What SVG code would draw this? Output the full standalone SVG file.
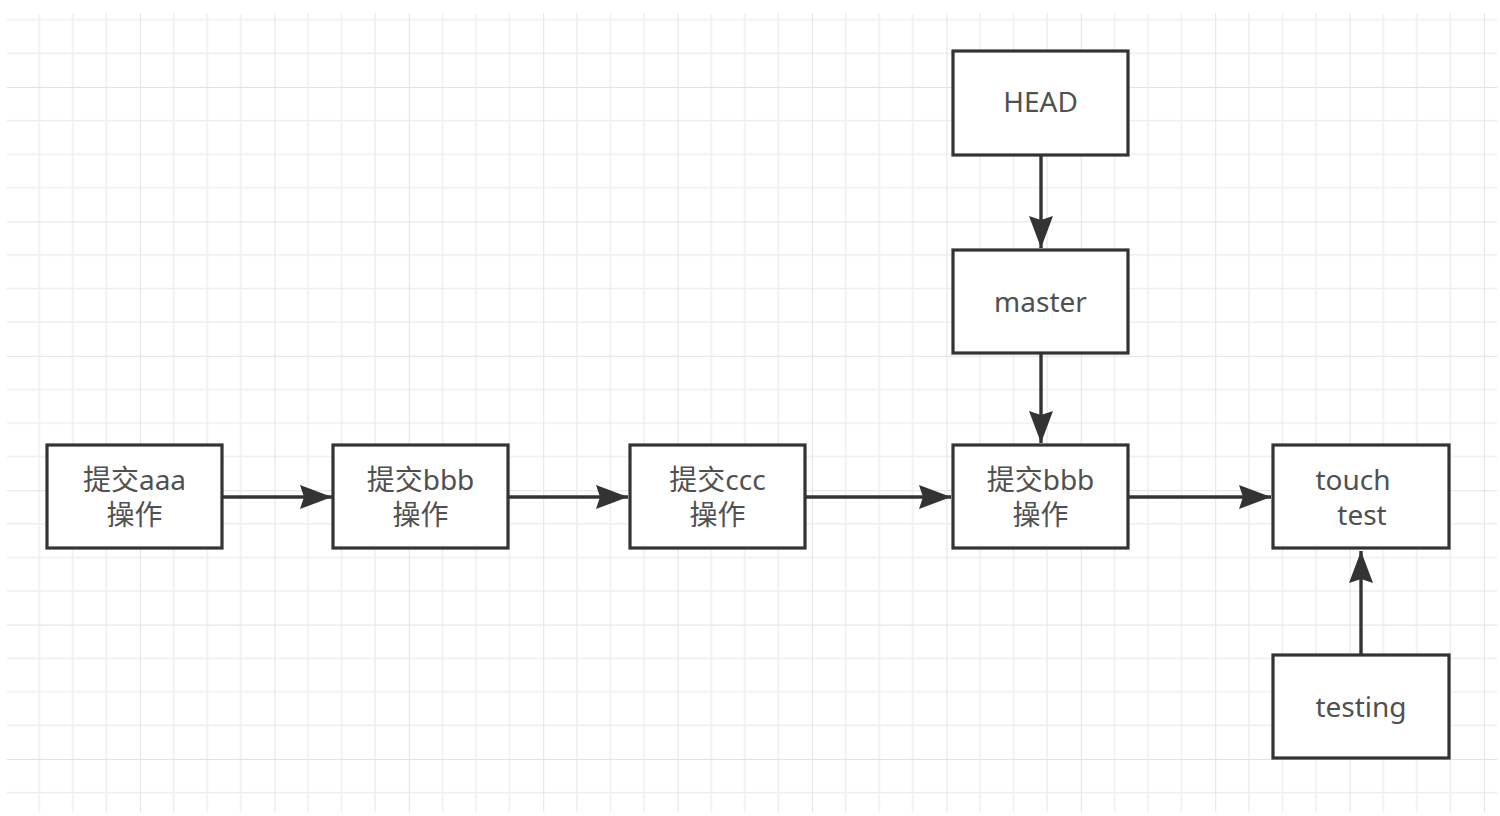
<svg xmlns="http://www.w3.org/2000/svg" width="1500" height="816" viewBox="0 0 1500 816">
  <defs>
    <pattern id="grid" patternUnits="userSpaceOnUse" x="5.6" y="-47.4" width="134.4" height="134.4">
      <path d="M33.6 0V134.4M67.2 0V134.4M100.8 0V134.4M0 33.6H134.4M0 67.2H134.4M0 100.8H134.4" stroke="#eeeeee" stroke-width="1.6" fill="none"/>
      <path d="M0 0V134.4M0 0H134.4" stroke="#e2e2e2" stroke-width="1.8" fill="none"/>
    </pattern>
    <marker id="arrow" markerUnits="userSpaceOnUse" markerWidth="34" markerHeight="26" refX="32" refY="12" orient="auto">
      <path d="M0 0L32 12L0 24L4 12Z" fill="#333333"/>
    </marker>
    <style>
      .box { fill: #ffffff; stroke: #333333; stroke-width: 3.2; }
      .lbl { font-family: "Noto Sans", "Noto Sans CJK SC", sans-serif; font-size: 28px; fill: #505050; text-anchor: middle; }
      .edge { stroke: #333333; stroke-width: 3.4; fill: none; marker-end: url(#arrow); }
    </style>
  </defs>
  <rect x="0" y="0" width="1500" height="816" fill="#ffffff"/>
  <rect x="7" y="13" width="1490" height="799" fill="url(#grid)"/>

  <g id="connectors">
    <path class="edge" d="M222 497H332"/>
    <path class="edge" d="M508 497H628"/>
    <path class="edge" d="M805 497H951"/>
    <path class="edge" d="M1128 497H1271"/>
    <path class="edge" d="M1041 155V248"/>
    <path class="edge" d="M1041 353V443"/>
    <path class="edge" d="M1361 655V551"/>
  </g>

  <g id="node-aaa">
    <rect class="box" x="47" y="445" width="175" height="103"/>
    <text class="lbl" x="134.5" y="490">提交aaa</text>
    <text class="lbl" x="134.5" y="525">操作</text>
  </g>
  <g id="node-bbb1">
    <rect class="box" x="333" y="445" width="175" height="103"/>
    <text class="lbl" x="420.5" y="490">提交bbb</text>
    <text class="lbl" x="420.5" y="525">操作</text>
  </g>
  <g id="node-ccc">
    <rect class="box" x="630" y="445" width="175" height="103"/>
    <text class="lbl" x="717.5" y="490">提交ccc</text>
    <text class="lbl" x="717.5" y="525">操作</text>
  </g>
  <g id="node-bbb2">
    <rect class="box" x="953" y="445" width="175" height="103"/>
    <text class="lbl" x="1040.5" y="490">提交bbb</text>
    <text class="lbl" x="1040.5" y="525">操作</text>
  </g>
  <g id="node-touch">
    <rect class="box" x="1273" y="445" width="176" height="103"/>
    <text class="lbl" x="1353" y="490">touch</text>
    <text class="lbl" x="1362" y="525">test</text>
  </g>
  <g id="node-head">
    <rect class="box" x="953" y="51" width="175" height="104"/>
    <text class="lbl" x="1040.5" y="112">HEAD</text>
  </g>
  <g id="node-master">
    <rect class="box" x="953" y="250" width="175" height="103"/>
    <text class="lbl" x="1040.5" y="312">master</text>
  </g>
  <g id="node-testing">
    <rect class="box" x="1273" y="655" width="176" height="103"/>
    <text class="lbl" x="1361" y="717">testing</text>
  </g>
</svg>
